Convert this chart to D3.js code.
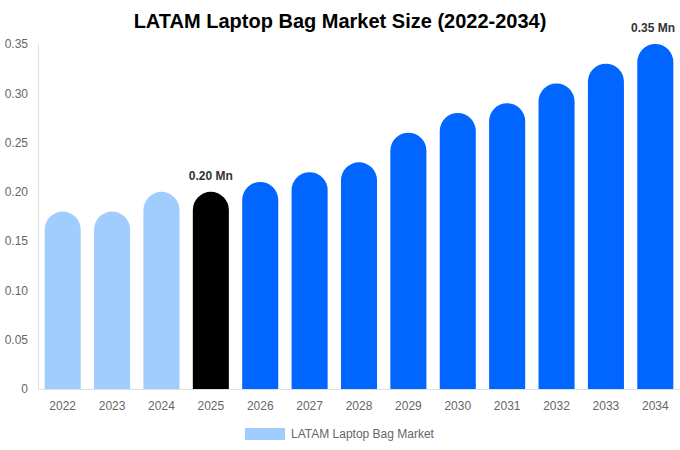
<!DOCTYPE html>
<html>
<head>
<meta charset="utf-8">
<script src="https://cdn.jsdelivr.net/npm/d3@7"></script>
<style>
  body { margin: 0; background: #fff; }
  svg { font-family: "Liberation Sans", Arial, sans-serif; }
</style>
</head>
<body>
<svg id="chart" width="680" height="450"></svg>
<script>
const years = ['2022','2023','2024','2025','2026','2027','2028','2029','2030','2031','2032','2033','2034'];
const values = [0.18, 0.18, 0.20, 0.20, 0.21, 0.22, 0.23, 0.26, 0.28, 0.29, 0.31, 0.33, 0.35];
const yTicks = [0, 0.05, 0.10, 0.15, 0.20, 0.25, 0.30, 0.35];
const labelled = ['2025', '2034'];
const seriesName = 'LATAM Laptop Bag Market';

const colorFor = (yr) => {
  if (yr === '2025') return '#000000';
  if (+yr < 2025) return '#a0cdfd';
  return '#0066ff';
};

const svg = d3.select('#chart');
const margin = {top: 44, right: 0, bottom: 61, left: 38};
const W = 680, H = 450;

const x = d3.scaleBand().domain(years).range([margin.left, W - margin.right]).paddingInner(0.27).paddingOuter(0.135);
const y = d3.scaleLinear().domain([0, 0.35]).range([H - margin.bottom, margin.top]);

// title
svg.append('text')
  .attr('x', 340).attr('y', 28)
  .attr('text-anchor', 'middle')
  .attr('font-size', 20).attr('font-weight', 'bold').attr('fill', '#000')
  .text('LATAM Laptop Bag Market Size (2022-2034)');

// y axis
const yAxis = svg.append('g')
  .attr('transform', `translate(${margin.left},0)`)
  .call(d3.axisLeft(y).tickValues(yTicks).tickSize(0).tickPadding(10)
    .tickFormat(d => d === 0 ? '0' : d3.format('.2f')(d)));
yAxis.select('.domain').attr('stroke', '#e0e0e0');
yAxis.selectAll('text').attr('fill', '#666').attr('font-size', 12);

// x axis
const xAxis = svg.append('g')
  .attr('transform', `translate(0,${y(0)})`)
  .call(d3.axisBottom(x).tickSize(0).tickPadding(12));
xAxis.select('.domain').attr('stroke', '#e0e0e0');
xAxis.selectAll('text').attr('fill', '#666').attr('font-size', 12);

// bars with rounded tops
const r = x.bandwidth() / 2;
const barPath = (d, i) => {
  const x0 = x(years[i]), w = x.bandwidth();
  const top = y(d), bot = y(0);
  return `M${x0},${bot} L${x0},${top + r} A${r},${r} 0 0 1 ${x0 + w},${top + r} L${x0 + w},${bot} Z`;
};
svg.append('g').selectAll('path')
  .data(values)
  .join('path')
  .attr('d', barPath)
  .attr('fill', (d, i) => colorFor(years[i]));

// value labels (kept inside the canvas on the right)
svg.append('g').selectAll('text')
  .data(values.map((v, i) => ({v, yr: years[i]})).filter(d => labelled.includes(d.yr)))
  .join('text')
  .attr('x', d => Math.min(x(d.yr) + x.bandwidth() / 2, W - 27))
  .attr('y', d => y(d.v) - 12)
  .attr('text-anchor', 'middle')
  .attr('font-size', 12).attr('font-weight', 'bold').attr('fill', '#333')
  .text(d => d3.format('.2f')(d.v) + ' Mn');

// legend
const lg = svg.append('g');
lg.append('rect').attr('x', 245).attr('y', 428).attr('width', 40).attr('height', 12).attr('fill', '#a0cdfd');
lg.append('text').attr('x', 291).attr('y', 438).attr('font-size', 12).attr('fill', '#666').text(seriesName);
</script>
</body>
</html>
